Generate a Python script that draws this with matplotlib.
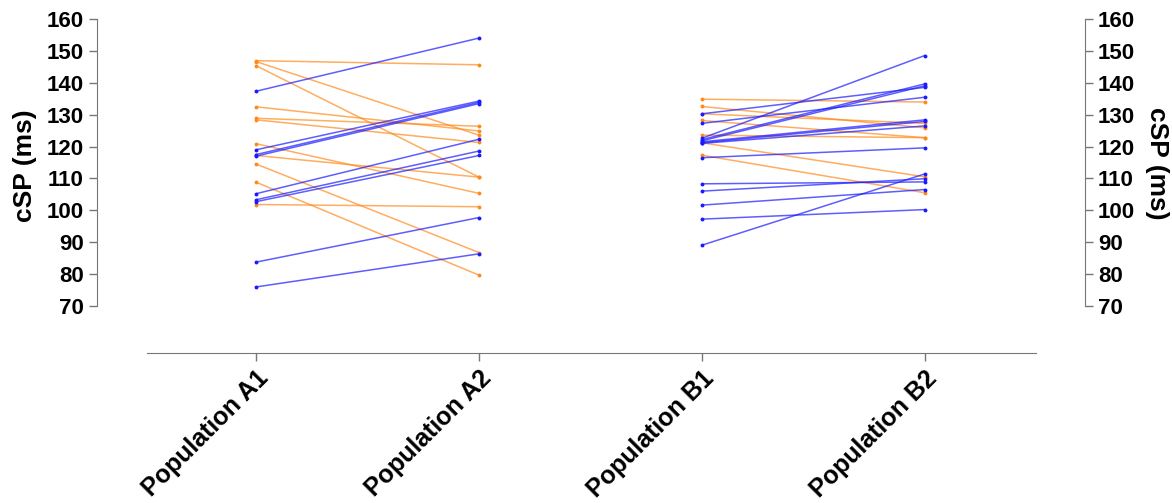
import matplotlib.pyplot as plt

plt.rcParams['font.family'] = ['Liberation Sans', 'DejaVu Sans']
plt.rcParams['font.weight'] = 'bold'

groups = ["Population A1", "Population A2", "Population B1", "Population B2"]

# population A, paired values (first time point, second time point)
a_orange_1 = [147.0, 146.7, 145.4, 132.5, 128.9, 128.4, 120.9, 117.2, 114.5, 108.8, 101.8]
a_orange_2 = [145.7, 123.6, 110.4, 124.9, 126.4, 121.3, 105.3, 110.4, 86.7, 79.6, 101.1]
a_blue_1 = [137.4, 119.0, 117.5, 117.0, 105.2, 103.3, 102.7, 83.7, 75.9]
a_blue_2 = [154.1, 134.3, 133.9, 133.5, 122.3, 118.6, 117.2, 97.7, 86.3]

# population B
b_orange_1 = [134.9, 132.6, 130.3, 128.2, 123.6, 121.2, 117.3]
b_orange_2 = [134.0, 125.9, 127.3, 122.8, 122.8, 110.5, 105.5]
b_blue_1 = [130.3, 127.3, 122.6, 122.2, 121.8, 121.5, 121.2, 121.0, 116.5, 108.3, 106.0, 101.6, 97.2, 89.0]
b_blue_2 = [138.6, 135.5, 148.6, 139.7, 139.1, 128.4, 127.9, 126.5, 119.6, 108.9, 109.9, 106.5, 100.2, 111.4]

orange = '#ff8a1c'
blue = '#1a1aff'
spine_col = '#777777'

fig = plt.figure(figsize=(11.72, 5.03), dpi=100)
ax = fig.add_axes([147/1172, 1 - 305.7/503, 889/1172, 286.4/503])

def pairs(ax, x0, v1, v2, col):
    for p, q in zip(v1, v2):
        ax.plot([x0, x0 + 1], [p, q], '-', color=col, lw=1.1, alpha=0.7, zorder=2)
        ax.plot([x0, x0 + 1], [p, q], 'o', color=col, ms=2.8, mew=0, zorder=3)

pairs(ax, 0, a_orange_1, a_orange_2, orange)
pairs(ax, 0, a_blue_1, a_blue_2, blue)
pairs(ax, 2, b_orange_1, b_orange_2, orange)
pairs(ax, 2, b_blue_1, b_blue_2, blue)

ax.set_xlim(-0.49, 3.5)
ax.set_ylim(70, 160)

for s in ['top', 'right']:
    ax.spines[s].set_visible(False)
ax.spines['left'].set_position(('outward', 36))
ax.spines['bottom'].set_position(('outward', 34))
ax.spines['left'].set_color(spine_col)
ax.spines['bottom'].set_color(spine_col)
ax.tick_params(axis='y', colors=spine_col, labelcolor='black', labelsize=16, length=6, width=1)
ax.tick_params(axis='x', colors=spine_col, labelcolor='black', length=6, width=1)

ax.set_yticks(range(70, 161, 10))
ax.set_xticks(range(4))
ax.set_xticklabels(groups, rotation=45, ha='right', rotation_mode='anchor',
                   fontsize=18, fontweight='bold')
ax.set_ylabel("cSP (ms)", fontsize=19, fontweight='bold', va='center')
ax.yaxis.set_label_coords(-0.137, 0.49)

ax2 = ax.twinx()
ax2.set_ylim(70, 160)
for s in ['top', 'left', 'bottom']:
    ax2.spines[s].set_visible(False)
ax2.spines['right'].set_position(('outward', 35))
ax2.spines['right'].set_color(spine_col)
ax2.tick_params(axis='y', colors=spine_col, labelcolor='black', labelsize=16, length=6, width=1)
ax2.set_yticks(range(70, 161, 10))
ax2.set_ylabel("cSP (ms)", fontsize=19, fontweight='bold', rotation=270, va='center')
ax2.yaxis.set_label_coords(1.136, 0.498)

fig.savefig("out.png", dpi=100)
